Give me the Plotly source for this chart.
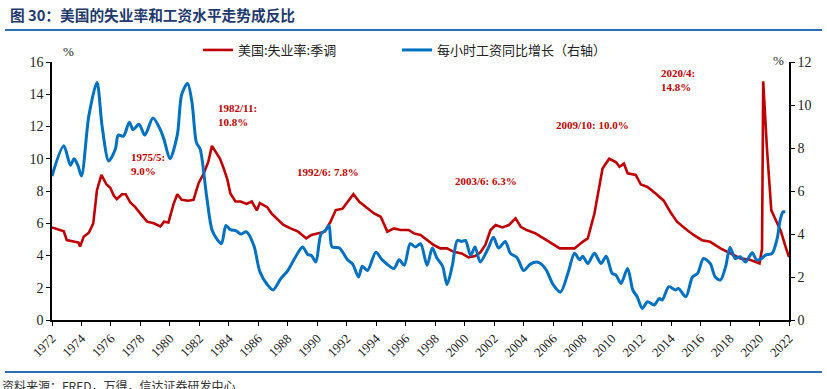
import plotly.graph_objects as go

# Unemployment rate (left axis, %)
unemp_x = [1972.0, 1972.8, 1973.0, 1973.8, 1973.9, 1974.15, 1974.5, 1974.8, 1975.05, 1975.35,
           1975.7, 1975.95, 1976.2, 1976.4, 1976.75, 1977.0, 1977.3, 1977.65, 1978.0, 1978.45,
           1978.9, 1979.35, 1979.6, 1979.9, 1980.25, 1980.5, 1980.8, 1981.25, 1981.6, 1981.95,
           1982.3, 1982.6, 1982.85, 1983.2, 1983.4, 1983.65, 1983.9, 1984.1, 1984.45, 1984.8,
           1985.2, 1985.55, 1985.9, 1986.1, 1986.6, 1986.9, 1987.25, 1987.7, 1988.15, 1988.7,
           1989.25, 1989.6, 1990.0, 1990.5, 1990.9, 1991.25, 1991.7, 1992.15, 1992.45, 1992.85,
           1993.3, 1993.85, 1994.3, 1994.75, 1995.2, 1995.65, 1996.2, 1996.55, 1997.0, 1997.45,
           1997.9, 1998.35, 1998.8, 1999.25, 1999.8, 2000.25, 2000.7, 2001.05, 2001.4, 2001.75,
           2002.1, 2002.55, 2003.0, 2003.45, 2003.8, 2004.2, 2004.8, 2005.35, 2005.9, 2006.45,
           2006.9, 2007.45, 2008.0, 2008.35, 2008.8, 2009.1, 2009.35, 2009.8, 2010.25, 2010.5,
           2010.8, 2011.05, 2011.6, 2011.95, 2012.4, 2012.95, 2013.5, 2013.95, 2014.4, 2015.1,
           2015.55, 2016.1, 2016.65, 2017.35, 2018.0, 2018.7, 2019.4, 2020.0, 2020.17, 2020.25,
           2020.5, 2020.8, 2021.0, 2021.45, 2021.75, 2022.0]
unemp_y = [5.74, 5.5, 4.96, 4.8, 4.55, 5.16, 5.41, 5.99, 8.05, 9.0,
           8.4, 8.2, 7.7, 7.5, 7.8, 7.8, 7.3, 7.0, 6.6, 6.1,
           6.0, 5.8, 6.1, 6.05, 7.2, 7.8, 7.45, 7.4, 7.45, 8.5,
           9.1, 9.8, 10.8, 10.3, 10.0, 9.4, 8.7, 7.85, 7.35, 7.35,
           7.2, 7.35, 6.8, 7.25, 7.0, 6.6, 6.3, 5.9, 5.7, 5.48,
           5.06, 5.27, 5.37, 5.48, 6.1, 6.82, 6.9, 7.44, 7.8, 7.33,
           7.02, 6.61, 6.4, 5.48, 5.68, 5.58, 5.58, 5.37, 5.27, 4.96,
           4.65, 4.44, 4.44, 4.23, 4.13, 3.88, 3.97, 4.18, 4.65, 5.58,
           5.89, 5.74, 5.89, 6.3, 5.78, 5.58, 5.37, 5.06, 4.75, 4.44,
           4.44, 4.44, 4.85, 5.06, 6.6, 8.05, 9.4, 10.0, 9.8, 9.5,
           9.7, 9.1, 9.0, 8.4, 8.25, 7.85, 7.4, 6.7, 6.1, 5.57,
           5.26, 4.95, 4.85, 4.44, 4.13, 3.82, 3.72, 3.5, 4.4, 14.8,
           10.7, 6.8, 6.4, 5.5, 4.6, 3.9]

# Hourly wage YoY growth (right axis, %)
wage_x = [1972.0, 1972.8, 1973.25, 1973.5, 1973.75, 1974.0, 1974.5, 1975.05, 1975.4, 1975.85,
          1976.3, 1976.5, 1976.85, 1977.25, 1977.5, 1977.9, 1978.3, 1978.85, 1979.35, 1979.6,
          1980.0, 1980.5, 1980.8, 1981.2, 1981.5, 1981.8, 1982.05, 1982.5, 1982.85, 1983.2,
          1983.5, 1983.8, 1984.1, 1984.5, 1984.8, 1985.2, 1985.7, 1986.1, 1986.6, 1987.0,
          1987.5, 1988.0, 1988.45, 1989.0, 1989.35, 1989.6, 1989.9, 1990.25, 1990.6, 1990.8,
          1991.0, 1991.5, 1992.05, 1992.4, 1992.8, 1993.05, 1993.4, 1993.97, 1994.4, 1995.2,
          1995.55, 1995.9, 1996.3, 1996.65, 1997.0, 1997.45, 1997.8, 1998.1, 1998.5, 1998.8,
          1999.15, 1999.5, 1999.8, 2000.05, 2000.4, 2000.7, 2001.05, 2001.6, 2001.95, 2002.3,
          2002.75, 2003.1, 2003.55, 2004.0, 2004.45, 2004.9, 2005.2, 2005.55, 2006.0, 2006.5,
          2007.0, 2007.45, 2007.8, 2008.0, 2008.35, 2008.8, 2009.25, 2009.6, 2010.0, 2010.25,
          2010.6, 2011.05, 2011.4, 2011.7, 2012.05, 2012.4, 2012.85, 2013.2, 2013.4, 2013.85,
          2014.3, 2014.5, 2015.0, 2015.45, 2015.8, 2016.2, 2016.65, 2017.0, 2017.35, 2017.7,
          2018.0, 2018.35, 2018.7, 2019.05, 2019.5, 2019.8, 2020.15, 2020.4, 2020.85, 2021.2,
          2021.4, 2021.6, 2021.75]
wage_y = [6.7, 8.1, 7.2, 7.5, 7.2, 6.7, 9.5, 11.05, 9.0, 7.4,
          7.95, 8.6, 8.55, 9.2, 8.85, 9.1, 8.6, 9.4, 8.85, 8.4,
          7.5, 8.6, 10.5, 11.0, 10.1, 8.25, 7.95, 5.7, 4.2, 3.75,
          3.55, 4.4, 4.2, 4.15, 4.0, 4.1, 3.45, 2.25, 1.65, 1.4,
          1.9, 2.3, 2.85, 3.4, 3.05, 3.0, 2.7, 4.0, 4.2, 4.4,
          3.4, 3.35, 2.8, 2.6, 2.0, 2.5, 2.3, 3.15, 2.8, 2.4,
          2.8, 2.55, 3.55, 3.4, 3.55, 2.55, 3.35, 2.9, 2.5, 1.65,
          2.5, 3.7, 3.65, 3.7, 3.0, 3.4, 2.7, 3.35, 3.85, 3.35,
          3.65, 3.1, 2.9, 2.3, 2.6, 2.7, 2.6, 2.3, 1.65, 1.3,
          2.17, 3.1, 2.8, 2.97, 2.63, 3.1, 2.63, 2.97, 2.17, 2.1,
          1.7, 2.4, 1.4, 1.08, 0.54, 0.85, 0.7, 1.0, 0.93, 1.55,
          1.4, 1.47, 1.08, 2.0, 2.17, 2.86, 2.63, 2.0, 1.86, 2.48,
          3.37, 2.86, 2.94, 2.7, 3.13, 2.8, 2.86, 3.02, 3.1, 3.8,
          4.65, 5.03, 5.03]

tick_years = list(range(1972, 2023, 2))

annotations_txt = [
    (1978.5, 9.7, "1975/5:<br>9.0%"),
    (1984.6, 12.7, "1982/11:<br>10.8%"),
    (1990.7, 9.2, "1992/6: 7.8%"),
    (2001.45, 8.6, "2003/6: 6.3%"),
    (2008.7, 12.1, "2009/10: 10.0%"),
    (2014.5, 14.9, "2020/4:<br>14.8%"),
]

RED = "#C00000"
BLUE = "#0070C0"
SERIF = "Liberation Serif, Times New Roman, serif"
CJK = "Noto Sans CJK SC"

L, R, T, B = 52, 38, 62, 69
W, H = 827, 389
pw, ph = W - L - R, H - T - B


def px_x(px):
    return (px - L) / pw


def px_y(py):
    return (H - B - py) / ph


fig = go.Figure()
fig.add_trace(go.Scatter(x=unemp_x, y=unemp_y, name="美国:失业率:季调", mode="lines",
                         line=dict(color=RED, width=2.6), yaxis="y", legend="legend"))
fig.add_trace(go.Scatter(x=wage_x, y=wage_y, name="每小时工资同比增长（右轴）", mode="lines",
                         line=dict(color=BLUE, width=3, shape="spline", smoothing=0.8),
                         yaxis="y2", legend="legend2"))

anns = []
for ax_, ay_, t in annotations_txt:
    anns.append(dict(x=ax_, y=ay_, xref="x", yref="y", text="<b>" + t + "</b>", showarrow=False,
                     font=dict(family=SERIF, size=11, color=RED), align="left"))

for px, py, t, fnt, xa in [
    (68, 52, "%", dict(family=SERIF, size=13, color="#222"), "center"),
    (778, 60, "%", dict(family=SERIF, size=13, color="#222"), "center"),
    (8, 15, "<b>图 30：美国的失业率和工资水平走势成反比</b>", dict(family=CJK, size=14.7, color="#1F3A6E"), "left"),
    (0, 385, "资料来源：FRED，万得，信达证券研发中心", dict(family=CJK, size=12, color="#333"), "left"),
]:
    anns.append(dict(x=px_x(px), y=px_y(py), xref="paper", yref="paper", text=t, showarrow=False,
                     font=fnt, xanchor=xa, yanchor="middle"))

shapes = [
    dict(type="line", xref="paper", yref="paper", x0=px_x(5), x1=px_x(822),
         y0=px_y(30), y1=px_y(30), line=dict(color="#2E6DB4", width=2)),
    dict(type="line", xref="paper", yref="paper", x0=px_x(5), x1=px_x(822),
         y0=px_y(372), y1=px_y(372), line=dict(color="#2E6DB4", width=2)),
]

leg_common = dict(orientation="h", xanchor="left", yanchor="middle",
                  font=dict(family=CJK, size=13, color="#222"), bgcolor="rgba(0,0,0,0)")

fig.update_layout(
    width=W, height=H, margin=dict(l=L, r=R, t=T, b=B),
    paper_bgcolor="white", plot_bgcolor="white",
    showlegend=True,
    legend=dict(x=px_x(198), y=px_y(50), **leg_common),
    legend2=dict(x=px_x(397), y=px_y(50), **leg_common),
    xaxis=dict(range=[1972, 2022], tickvals=tick_years, ticktext=[str(y) for y in tick_years],
               tickangle=-45, showgrid=False, zeroline=False, showline=True, linecolor="black",
               linewidth=1.5, ticks="outside", ticklen=4, tickcolor="black", automargin=False,
               tickfont=dict(family=SERIF, size=13, color="#222")),
    yaxis=dict(range=[0, 16], dtick=2, showgrid=False, zeroline=False, showline=True,
               linecolor="black", linewidth=1.5, ticks="outside", ticklen=4, tickcolor="black",
               automargin=False, tickfont=dict(family=SERIF, size=14, color="#222")),
    yaxis2=dict(range=[0, 12], dtick=2, overlaying="y", side="right", showgrid=False,
                zeroline=False, showline=True, linecolor="black", linewidth=1.5, ticks="outside",
                ticklen=4, tickcolor="black", automargin=False,
                tickfont=dict(family=SERIF, size=14, color="#222")),
    annotations=anns, shapes=shapes,
)

fig.write_html("out.html", config={"displayModeBar": False},
               post_script="document.body.style.margin='0';document.body.style.padding='0';document.body.style.overflow='hidden';")
